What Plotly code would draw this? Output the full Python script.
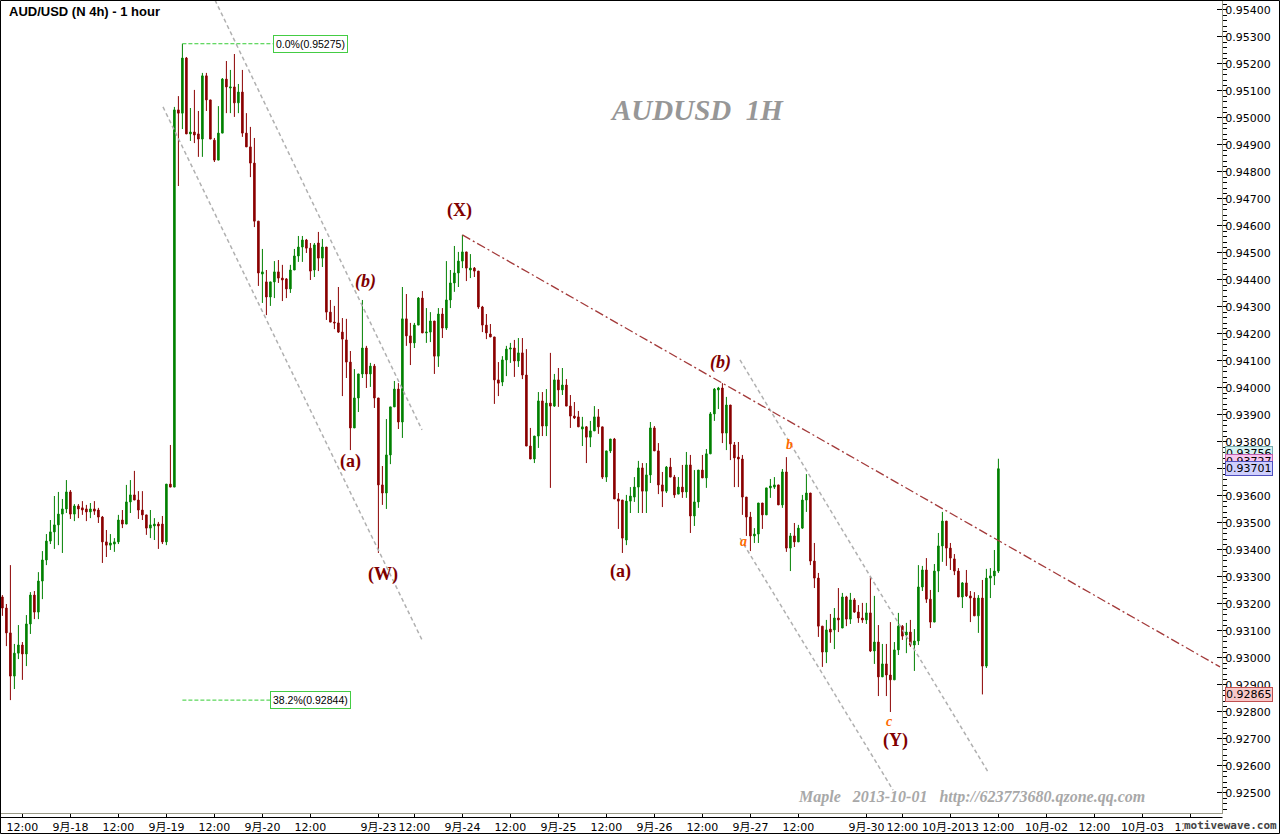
import plotly.graph_objects as go

# ---------------- data (hourly bars, index 0 = 9月-17 12:00) ----------------
bar_index = list(range(-5, 245))

open_ = [0.93226,0.93185,0.93093,0.92933,0.93018,0.93048,0.93015,0.93126,0.93233,0.93170,
0.93285,0.93363,0.93433,0.93467,0.93493,0.93533,0.93552,0.93615,0.93533,0.93563,
0.93556,0.93552,0.93541,0.93552,0.93548,0.93522,0.93430,0.93418,0.93422,0.93430,
0.93511,0.93496,0.93578,0.93604,0.93585,0.93548,0.93530,0.93481,0.93489,0.93496,
0.93496,0.93430,0.93644,0.93633,0.95030,0.95018,0.95222,0.94941,0.94948,0.94941,
0.94922,0.95156,0.95067,0.94918,0.94844,0.94944,0.95144,0.95111,0.95115,0.95056,
0.95096,0.94944,0.94893,0.94833,0.94618,0.94422,0.94393,0.94337,0.94393,0.94430,
0.94407,0.94404,0.94367,0.94437,0.94489,0.94522,0.94548,0.94518,0.94437,0.94537,
0.94481,0.94522,0.94281,0.94244,0.94241,0.94207,0.94178,0.94096,0.93852,0.93963,
0.94052,0.94148,0.94052,0.94081,0.93963,0.93641,0.93611,0.93752,0.93930,0.93996,
0.93874,0.94256,0.94193,0.94167,0.94233,0.94333,0.94204,0.94207,0.94248,0.94118,
0.94274,0.94222,0.94326,0.94389,0.94426,0.94470,0.94504,0.94437,0.94444,0.94433,
0.94300,0.94233,0.94200,0.94189,0.94030,0.94022,0.94104,0.94144,0.94148,0.94100,
0.94130,0.94048,0.93785,0.93737,0.93822,0.93952,0.93859,0.93944,0.93933,0.94030,
0.93993,0.94011,0.93933,0.93896,0.93893,0.93848,0.93856,0.93818,0.93841,0.93893,
0.93856,0.93670,0.93767,0.93811,0.93589,0.93585,0.93437,0.93581,0.93596,0.93633,
0.93704,0.93618,0.93678,0.93852,0.93767,0.93641,0.93618,0.93707,0.93670,0.93607,
0.93633,0.93615,0.93715,0.93526,0.93578,0.93696,0.93667,0.93756,0.93904,0.93993,
0.94000,0.93833,0.93937,0.93789,0.93744,0.93737,0.93596,0.93522,0.93452,0.93459,
0.93574,0.93530,0.93630,0.93633,0.93641,0.93567,0.93689,0.93407,0.93452,0.93430,
0.93481,0.93585,0.93611,0.93359,0.93296,0.93118,0.93022,0.93107,0.93104,0.93148,
0.93111,0.93226,0.93144,0.93215,0.93170,0.93148,0.93141,0.93167,0.93026,0.93059,
0.92930,0.92978,0.92937,0.92919,0.93030,0.93118,0.93085,0.93096,0.93048,0.93063,
0.93263,0.93326,0.93218,0.93133,0.93322,0.93415,0.93507,0.93407,0.93367,0.93322,
0.93226,0.93278,0.93230,0.93222,0.93156,0.93222,0.92970,0.93296,0.93304,0.93322]

high = [0.93233,0.93200,0.93344,0.93052,0.93122,0.93059,0.93159,0.93244,0.93248,0.93318,
0.93396,0.93459,0.93511,0.93600,0.93615,0.93589,0.93659,0.93622,0.93570,0.93570,
0.93581,0.93567,0.93574,0.93581,0.93556,0.93526,0.93474,0.93459,0.93444,0.93530,
0.93548,0.93641,0.93659,0.93693,0.93618,0.93618,0.93530,0.93548,0.93518,0.93504,
0.93526,0.93644,0.93789,0.95041,0.95081,0.95275,0.95226,0.95037,0.95104,0.95026,
0.95167,0.95167,0.95067,0.94926,0.95044,0.95148,0.95211,0.95178,0.95237,0.95126,
0.95178,0.95018,0.94967,0.94926,0.94618,0.94515,0.94437,0.94393,0.94470,0.94474,
0.94456,0.94407,0.94456,0.94515,0.94563,0.94563,0.94552,0.94537,0.94537,0.94578,
0.94552,0.94522,0.94326,0.94304,0.94374,0.94259,0.94256,0.94137,0.94070,0.94052,
0.94326,0.94156,0.94093,0.94089,0.93963,0.93711,0.93885,0.93930,0.94026,0.94018,
0.94374,0.94348,0.94241,0.94241,0.94337,0.94359,0.94296,0.94281,0.94248,0.94296,
0.94296,0.94470,0.94437,0.94526,0.94504,0.94567,0.94504,0.94496,0.94448,0.94433,
0.94304,0.94274,0.94237,0.94189,0.94096,0.94118,0.94156,0.94167,0.94178,0.94185,
0.94185,0.94144,0.93852,0.93822,0.93985,0.93985,0.93996,0.94130,0.94052,0.94074,
0.94074,0.94033,0.93974,0.93948,0.93915,0.93893,0.93859,0.93878,0.93933,0.93922,
0.93856,0.93767,0.93811,0.93815,0.93611,0.93585,0.93604,0.93633,0.93670,0.93730,
0.93722,0.93722,0.93874,0.93859,0.93796,0.93689,0.93711,0.93741,0.93678,0.93670,
0.93715,0.93763,0.93752,0.93696,0.93696,0.93752,0.93774,0.93911,0.94000,0.94004,
0.94018,0.93967,0.93937,0.93800,0.93800,0.93752,0.93596,0.93541,0.93481,0.93574,
0.93574,0.93630,0.93663,0.93670,0.93641,0.93700,0.93744,0.93463,0.93500,0.93493,
0.93604,0.93681,0.93611,0.93426,0.93315,0.93118,0.93141,0.93163,0.93185,0.93259,
0.93241,0.93230,0.93241,0.93222,0.93196,0.93204,0.93204,0.93304,0.93230,0.93122,
0.93052,0.93052,0.93133,0.93059,0.93167,0.93122,0.93130,0.93141,0.93107,0.93344,
0.93341,0.93370,0.93252,0.93348,0.93463,0.93541,0.93507,0.93426,0.93385,0.93333,
0.93281,0.93326,0.93248,0.93244,0.93233,0.93289,0.93330,0.93333,0.93400,0.93738]

low = [0.93156,0.93044,0.92844,0.92885,0.92996,0.92919,0.92970,0.93089,0.93144,0.93144,
0.93218,0.93344,0.93422,0.93404,0.93418,0.93389,0.93537,0.93515,0.93507,0.93518,
0.93530,0.93507,0.93518,0.93530,0.93500,0.93352,0.93374,0.93400,0.93393,0.93422,
0.93481,0.93496,0.93537,0.93585,0.93515,0.93511,0.93456,0.93444,0.93437,0.93404,
0.93422,0.93418,0.93633,0.93633,0.94748,0.94959,0.94941,0.94915,0.94907,0.94856,
0.94856,0.95026,0.94922,0.94837,0.94844,0.94944,0.95018,0.95018,0.95004,0.95018,
0.94930,0.94893,0.94781,0.94596,0.94378,0.94315,0.94270,0.94304,0.94333,0.94389,
0.94322,0.94333,0.94352,0.94437,0.94467,0.94467,0.94500,0.94400,0.94411,0.94433,
0.94448,0.94252,0.94244,0.94218,0.94204,0.93970,0.94037,0.93770,0.93852,0.93911,
0.94037,0.94000,0.94004,0.93926,0.93389,0.93567,0.93552,0.93718,0.93930,0.93848,
0.93815,0.94156,0.94085,0.94148,0.94233,0.94204,0.94167,0.94170,0.94052,0.94078,
0.94185,0.94215,0.94296,0.94356,0.94374,0.94444,0.94396,0.94407,0.94411,0.94293,
0.94207,0.94181,0.94189,0.93941,0.93970,0.94007,0.94044,0.94093,0.94041,0.94078,
0.94033,0.93785,0.93737,0.93722,0.93778,0.93822,0.93822,0.93630,0.93930,0.93930,
0.93974,0.93933,0.93852,0.93885,0.93856,0.93785,0.93722,0.93781,0.93841,0.93830,
0.93663,0.93652,0.93759,0.93589,0.93478,0.93389,0.93418,0.93537,0.93578,0.93537,
0.93537,0.93537,0.93648,0.93767,0.93607,0.93559,0.93611,0.93670,0.93593,0.93607,
0.93593,0.93593,0.93463,0.93489,0.93556,0.93667,0.93630,0.93756,0.93878,0.93922,
0.93796,0.93770,0.93733,0.93633,0.93633,0.93530,0.93452,0.93396,0.93426,0.93426,
0.93478,0.93530,0.93593,0.93626,0.93567,0.93556,0.93393,0.93322,0.93411,0.93430,
0.93478,0.93541,0.93344,0.93259,0.93078,0.92967,0.92981,0.93056,0.93033,0.93096,
0.93111,0.93118,0.93126,0.93167,0.93130,0.93130,0.93126,0.93022,0.92978,0.92859,
0.92930,0.92859,0.92800,0.92919,0.93011,0.93067,0.93018,0.93041,0.92952,0.93048,
0.93248,0.93204,0.93111,0.93133,0.93244,0.93356,0.93341,0.93326,0.93307,0.93226,
0.93185,0.93226,0.93133,0.93156,0.93093,0.92865,0.92963,0.93222,0.93270,0.93315]

close = [0.93185,0.93093,0.92933,0.93018,0.93048,0.93015,0.93126,0.93233,0.93170,0.93285,
0.93363,0.93433,0.93467,0.93493,0.93533,0.93552,0.93615,0.93533,0.93563,0.93552,
0.93548,0.93541,0.93552,0.93544,0.93522,0.93430,0.93418,0.93426,0.93430,0.93511,
0.93496,0.93578,0.93604,0.93585,0.93548,0.93530,0.93481,0.93493,0.93496,0.93489,
0.93430,0.93644,0.93633,0.95030,0.95018,0.95222,0.94941,0.94948,0.94937,0.94922,
0.95156,0.95067,0.94922,0.94844,0.94944,0.95144,0.95115,0.95115,0.95056,0.95096,
0.94944,0.94893,0.94833,0.94618,0.94426,0.94430,0.94337,0.94393,0.94430,0.94407,
0.94400,0.94367,0.94437,0.94489,0.94522,0.94548,0.94518,0.94433,0.94530,0.94481,
0.94522,0.94281,0.94244,0.94241,0.94207,0.94181,0.94096,0.93852,0.93963,0.94052,
0.94148,0.94052,0.94081,0.93963,0.93641,0.93611,0.93752,0.93930,0.93996,0.93874,
0.94256,0.94193,0.94167,0.94233,0.94333,0.94204,0.94207,0.94248,0.94118,0.94274,
0.94222,0.94326,0.94389,0.94426,0.94470,0.94504,0.94444,0.94444,0.94433,0.94300,
0.94233,0.94204,0.94189,0.94030,0.94018,0.94104,0.94144,0.94148,0.94100,0.94130,
0.94048,0.93785,0.93737,0.93822,0.93952,0.93859,0.93944,0.93933,0.94030,0.93993,
0.94011,0.93933,0.93896,0.93889,0.93856,0.93856,0.93818,0.93841,0.93893,0.93856,
0.93670,0.93767,0.93811,0.93589,0.93581,0.93444,0.93581,0.93600,0.93633,0.93704,
0.93618,0.93678,0.93852,0.93767,0.93641,0.93618,0.93707,0.93670,0.93604,0.93633,
0.93615,0.93715,0.93526,0.93578,0.93696,0.93667,0.93756,0.93904,0.93996,0.94000,
0.93833,0.93937,0.93793,0.93741,0.93737,0.93596,0.93522,0.93452,0.93459,0.93574,
0.93530,0.93630,0.93637,0.93641,0.93567,0.93689,0.93407,0.93452,0.93430,0.93481,
0.93585,0.93611,0.93359,0.93296,0.93118,0.93022,0.93104,0.93096,0.93148,0.93141,
0.93226,0.93144,0.93215,0.93170,0.93148,0.93141,0.93167,0.93026,0.93059,0.92930,
0.92978,0.92937,0.92919,0.93030,0.93118,0.93081,0.93096,0.93048,0.93063,0.93263,
0.93326,0.93218,0.93133,0.93322,0.93415,0.93507,0.93407,0.93370,0.93322,0.93226,
0.93278,0.93230,0.93222,0.93156,0.93222,0.92970,0.93296,0.93304,0.93322,0.93701]

# date axis
tick_bars = [0, 12, 24, 36, 48, 60, 72, 89, 98, 110, 122, 134, 146, 158, 170, 182, 194,
             211, 220, 232, 244, 256, 268, 280, 292]
tick_text = ["12:00", "9月-18", "12:00", "9月-19", "12:00", "9月-20", "12:00", "9月-23", "12:00",
             "9月-24", "12:00", "9月-25", "12:00", "9月-26", "12:00", "9月-27", "12:00",
             "9月-30", "12:00", "10月-2013", "12:00", "10月-02", "12:00", "10月-03", "12:00"]
price_ticks = [round(0.925 + 0.001 * k, 3) for k in range(30)]

# Elliott wave labels: text, bar, price
wave_text = ["(X)", "<i>(b)</i>", "(a)", "(W)", "<i>(b)</i>", "(a)", "(Y)"]
wave_bar = [109.2, 85.7, 81.9, 90.2, 174.4, 149.4, 218.2]
wave_price = [0.94659, 0.94396, 0.93726, 0.93311, 0.94096, 0.93322, 0.92696]
sub_text = ["a", "b", "c"]
sub_bar = [180.2, 191.7, 216.7]
sub_price = [0.93430, 0.93789, 0.92763]

# trend / channel lines (bar, price) pairs
trend_line = [(110, 0.94567), (299.4, 0.92967)]
channel_lines = [
    [(48.15, 0.95437), (99.9, 0.93845)],
    [(35.15, 0.95041), (99.9, 0.93067)],
    [(179.4, 0.94104), (241.4, 0.92578)],
    [(179.4, 0.93444), (217.65, 0.92511)],
]

# Fibonacci levels
fib_names = ["0.0%", "38.2%"]
fib_prices = [0.95275, 0.92844]
fib_start = [40, 40]
fib_end = [62.6, 61.9]

# price flags on right axis
flag_prices = [0.93756, 0.93727, 0.93701, 0.92865]
flag_fill = ["#d6f2f2", "#f7c6ee", "#cfcffc", "#f8c8c8"]
flag_line = ["#7aaeb0", "#c060b0", "#5050c0", "#c05050"]

# ---------------- figure ----------------
W, H = 1280, 834
ML, MR, MT, MB = 1, 58, 1, 21
PW, PH = W - ML - MR, H - MT - MB
XR = [-5.35, 299.9]
YR = [0.924259, 0.954333]

AXFONT = "DejaVu Sans, Noto Sans CJK SC, sans-serif"


def px_x(p):
    return (p - ML) / PW


def px_y(p):
    return 1 - (p - MT) / PH


fig = go.Figure()
fig.add_trace(go.Candlestick(
    x=bar_index, open=open_, high=high, low=low, close=close,
    increasing=dict(line=dict(color="#008000", width=1), fillcolor="#008000"),
    decreasing=dict(line=dict(color="#8b0000", width=1), fillcolor="#8b0000"),
    whiskerwidth=0, showlegend=False, hoverinfo="skip"))

shapes = []
for seg in channel_lines:
    shapes.append(dict(type="line", xref="x", yref="y", x0=seg[0][0], y0=seg[0][1],
                       x1=seg[1][0], y1=seg[1][1],
                       line=dict(color="#b0b0b0", width=1.5, dash="4px,3px")))
shapes.append(dict(type="line", xref="x", yref="y", x0=trend_line[0][0], y0=trend_line[0][1],
                   x1=trend_line[1][0], y1=trend_line[1][1],
                   line=dict(color="#a33a3a", width=1.3, dash="9px,3px,2px,3px")))
for fp, fs, fe in zip(fib_prices, fib_start, fib_end):
    shapes.append(dict(type="line", xref="x", yref="y", x0=fs, y0=fp, x1=fe, y1=fp,
                       line=dict(color="#33cc33", width=1, dash="4px,2px")))
# second (black) line of the date strip
shapes.append(dict(type="line", xref="paper", yref="paper", x0=px_x(0), x1=px_x(1222.5),
                   y0=px_y(817.5), y1=px_y(817.5), line=dict(color="black", width=1)))
# outer black frame
shapes.append(dict(type="rect", xref="paper", yref="paper",
                   x0=px_x(0.5), x1=px_x(W - 0.5), y0=px_y(H - 0.5), y1=px_y(0.5),
                   line=dict(color="black", width=1), fillcolor="rgba(0,0,0,0)", layer="above"))

ann = []
for t, b, p in zip(wave_text, wave_bar, wave_price):
    ann.append(dict(x=b, y=p, xref="x", yref="y", text="<b>" + t + "</b>", showarrow=False,
                    font=dict(family="Liberation Serif, Times New Roman, serif", size=18,
                              color="#800000")))
for t, b, p in zip(sub_text, sub_bar, sub_price):
    ann.append(dict(x=b, y=p, xref="x", yref="y", text="<b><i>" + t + "</i></b>", showarrow=False,
                    font=dict(family="Liberation Serif, Times New Roman, serif", size=14,
                              color="#ff6a00")))
for n, fp, fe in zip(fib_names, fib_prices, fib_end):
    ann.append(dict(x=fe, y=fp, xref="x", yref="y", xanchor="left", yanchor="middle",
                    text="%s(%.5f)" % (n, fp), showarrow=False, bgcolor="white",
                    bordercolor="#44cc44", borderwidth=1, borderpad=2,
                    font=dict(family="Liberation Sans, Arial, sans-serif", size=10.5,
                              color="black")))
for fp, fc, lc in zip(flag_prices, flag_fill, flag_line):
    ann.append(dict(x=1, y=fp, xref="paper", yref="y", xanchor="left", yanchor="middle",
                    xshift=3, text="%.5f" % fp, showarrow=False, bgcolor=fc, bordercolor=lc,
                    borderwidth=1, borderpad=0,
                    font=dict(family=AXFONT, size=11, color="black")))
ann.append(dict(x=px_x(7), y=px_y(12), xref="paper", yref="paper", xanchor="left",
                yanchor="middle", text="<b>AUD/USD (N 4h) - 1 hour</b>", showarrow=False,
                font=dict(family="Liberation Sans, Arial, sans-serif", size=13, color="black")))
ann.append(dict(x=px_x(697), y=px_y(110), xref="paper", yref="paper", xanchor="center",
                yanchor="middle", text="<b><i>AUDUSD\u00a0\u00a01H</i></b>", showarrow=False,
                font=dict(family="Liberation Serif, Times New Roman, serif", size=29,
                          color="#979797")))
ann.append(dict(x=px_x(971), y=px_y(797), xref="paper", yref="paper", xanchor="center",
                yanchor="middle",
                text="<b><i>Maple\u00a0\u00a0\u00a02013-10-01\u00a0\u00a0\u00a0http://623773680.qzone.qq.com</i></b>",
                showarrow=False,
                font=dict(family="Liberation Serif, Times New Roman, serif", size=16,
                          color="#a8a8a8")))
ann.append(dict(x=px_x(1278), y=px_y(826), xref="paper", yref="paper", xanchor="right",
                yanchor="middle", text="<b>motivewave.com</b>", showarrow=False,
                bgcolor="white", borderpad=0,
                font=dict(family="DejaVu Sans Mono, monospace", size=11, color="#444444")))

fig.update_layout(
    width=W, height=H, margin=dict(l=ML, r=MR, t=MT, b=MB),
    paper_bgcolor="white", plot_bgcolor="white",
    boxgap=0.45, showlegend=False, hovermode=False,
    shapes=shapes, annotations=ann,
    xaxis=dict(range=XR, rangeslider=dict(visible=False), showgrid=False, zeroline=False,
               tickmode="array", tickvals=tick_bars, ticktext=tick_text,
               ticks="outside", ticklen=4, tickcolor="black", showline=True,
               linecolor="#9a9a88", linewidth=1, mirror=False,
               tickfont=dict(family=AXFONT, size=11, color="black")),
    yaxis=dict(range=YR, side="right", showgrid=False, zeroline=False,
               tickmode="array", tickvals=price_ticks, tickformat=".5f",
               ticks="inside", ticklen=5, tickcolor="black", showline=True,
               linecolor="#9a9a88", linewidth=1,
               minor=dict(ticks="outside", ticklen=4, dtick=0.0002, tickcolor="black"),
               tickfont=dict(family=AXFONT, size=11, color="black")),
)

fig.write_html("out.html", config={"displayModeBar": False, "staticPlot": True},
               post_script="document.body.style.margin='0px';")
